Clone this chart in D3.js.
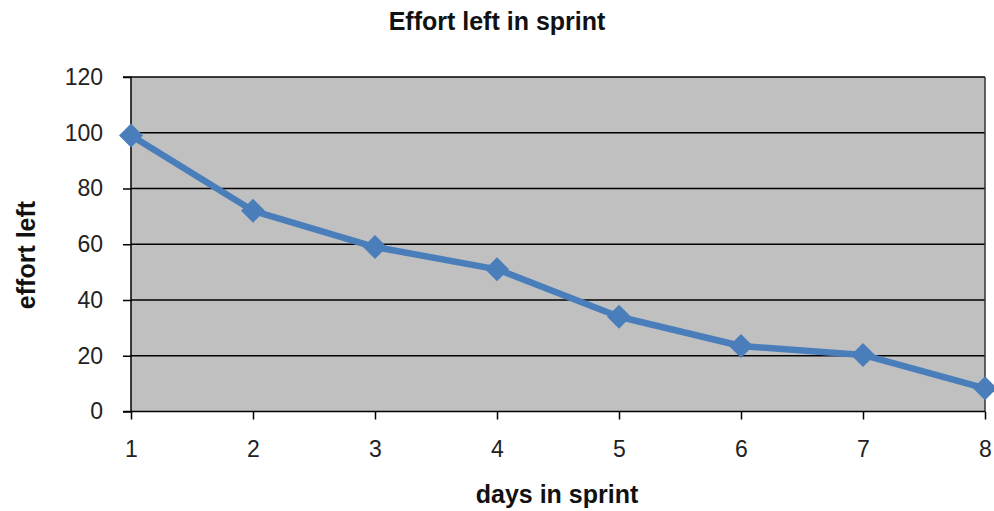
<!DOCTYPE html>
<html><head><meta charset="utf-8">
<script src="https://cdn.jsdelivr.net/npm/d3@7"></script>
<style>body{margin:0;background:#fff}svg{display:block}text{font-family:"Liberation Sans",Arial,sans-serif}</style>
</head><body>
<svg id="c" width="994" height="511"></svg>
<script>
const days = [1,2,3,4,5,6,7,8];
const effort = [99,72,59,51,34,23.5,20.3,8.3];
const yTicks = [0,20,40,60,80,100,120];
const title = "Effort left in sprint";
const xTitle = "days in sprint";
const yTitle = "effort left";

const svg = d3.select("#c");
const m = {l:131, r:985, t:77, b:411.5};
const x = d3.scaleLinear().domain([1,8]).range([m.l, m.r]);
const y = d3.scaleLinear().domain([0,120]).range([m.b, m.t]);

svg.append("rect").attr("x",m.l).attr("y",m.t).attr("width",m.r-m.l).attr("height",m.b-m.t).attr("fill","#c0c0c0");

svg.append("g").selectAll("line").data(yTicks.filter(d=>d>0)).join("line")
  .attr("x1",m.l).attr("x2",m.r).attr("y1",d=>y(d)).attr("y2",d=>y(d))
  .attr("stroke","#000").attr("stroke-width",1.5);
svg.append("line").attr("x1",m.r).attr("x2",m.r).attr("y1",m.t).attr("y2",m.b).attr("stroke","#333").attr("stroke-width",1.5);

const yAxis = svg.append("g").attr("transform",`translate(${m.l},0)`)
  .call(d3.axisLeft(y).tickValues(yTicks).tickSize(8).tickPadding(20));
const xAxis = svg.append("g").attr("transform",`translate(0,${m.b})`)
  .call(d3.axisBottom(x).tickValues(days).tickFormat(d3.format("d")).tickSize(8).tickPadding(21));
[yAxis,xAxis].forEach(a=>{
  a.select(".domain").attr("stroke","#000").attr("stroke-width",1.5);
  a.selectAll(".tick line").attr("stroke","#000").attr("stroke-width",1.5);
  a.selectAll("text").attr("font-size",23).attr("fill","#222").style("font-family","Liberation Sans, Arial, sans-serif");
});
yAxis.select(".domain").attr("d",`M-8,${m.t}H0V${m.b}H-8`);
xAxis.select(".domain").attr("d",`M${m.l},0H${m.r}`);

const line = d3.line().x((d,i)=>x(days[i])).y(d=>y(d));
svg.append("path").datum(effort).attr("d",line).attr("fill","none")
  .attr("stroke","#4a7ebb").attr("stroke-width",6.5).attr("stroke-linejoin","round");
svg.append("g").selectAll("path").data(effort).join("path")
  .attr("transform",(d,i)=>`translate(${x(days[i])},${y(d)})`)
  .attr("d","M0,-12L12,0L0,12L-12,0Z").attr("fill","#4a7ebb");

svg.append("text").attr("x",497).attr("y",30).attr("text-anchor","middle")
  .attr("font-size",25).attr("font-weight","bold").attr("fill","#111").text(title);
svg.append("text").attr("x",557).attr("y",503).attr("text-anchor","middle")
  .attr("font-size",25).attr("font-weight","bold").attr("fill","#111").text(xTitle);
svg.append("text").attr("transform","translate(35,255) rotate(-90)").attr("text-anchor","middle")
  .attr("font-size",25).attr("font-weight","bold").attr("fill","#111").text(yTitle);
</script>
</body></html>
